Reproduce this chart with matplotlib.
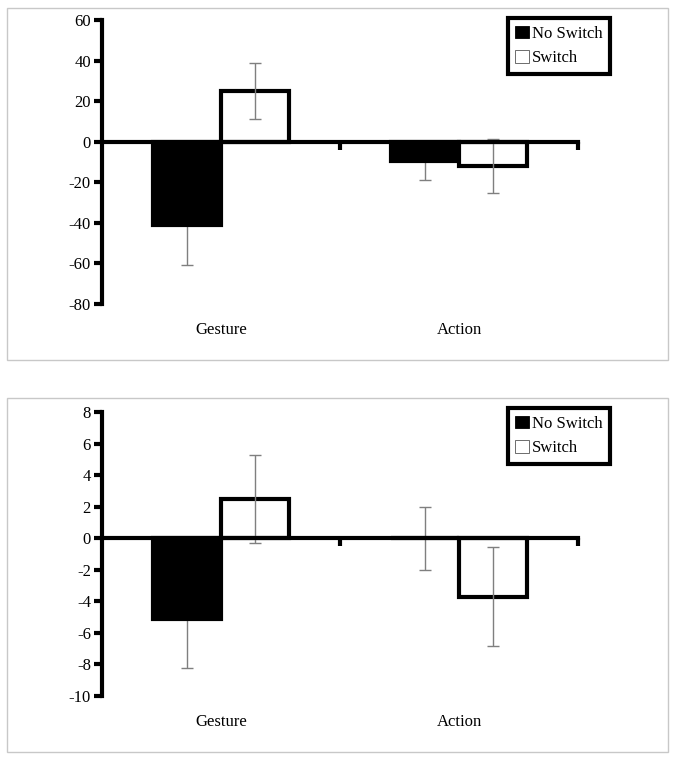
import matplotlib
matplotlib.use("Agg")
import matplotlib.pyplot as plt
import matplotlib.transforms as mtransforms
from matplotlib.patches import Rectangle, Patch
import numpy as np

plt.rcParams['font.family'] = ['Liberation Serif', 'DejaVu Serif']

categories = ["Gesture", "Action"]
series = ["No Switch", "Switch"]

# top panel
top_noswitch = [-41, -9.5]
top_noswitch_err = [20, 9.5]
top_switch = [25, -12]
top_switch_err = [14, 13.5]
top_ticks = [60, 40, 20, 0, -20, -40, -60, -80]

# bottom panel
bot_noswitch = [-5.1, 0.0]
bot_noswitch_err = [3.1, 2.0]
bot_switch = [2.5, -3.7]
bot_switch_err = [2.8, 3.15]
bot_ticks = [8, 6, 4, 2, 0, -2, -4, -6, -8, -10]

W, H = 675, 760
fig = plt.figure(figsize=(W / 100, H / 100), dpi=100)


def px_axes(x0, x1, ytop, ybot):
    return fig.add_axes([x0 / W, 1 - ybot / H, (x1 - x0) / W, (ybot - ytop) / H])


def panel(ax, ns, ns_err, sw, sw_err, ticks, label_y, legend_top):
    x = np.arange(len(categories))
    bw = 0.286
    ax.bar(x - bw / 2, ns, bw, color="black", edgecolor="black", linewidth=3, zorder=2)
    ax.bar(x + bw / 2, sw, bw, color="white", edgecolor="black", linewidth=3, zorder=2)
    # no-switch error bars sit behind the black bars
    ax.errorbar(x - bw / 2, ns, yerr=ns_err, fmt="none", ecolor="#7f7f7f",
                elinewidth=1, capsize=4, capthick=1, zorder=1)
    ax.errorbar(x + bw / 2, sw, yerr=sw_err, fmt="none", ecolor="#7f7f7f",
                elinewidth=1, capsize=4, capthick=1, zorder=3)
    ax.set_xlim(-0.5, 1.5)
    ax.set_ylim(min(ticks), max(ticks))
    ax.set_yticks(ticks)
    ax.set_yticklabels([str(t) for t in ticks])
    for s in ["top", "right"]:
        ax.spines[s].set_visible(False)
    ax.spines["left"].set_linewidth(3)
    ax.spines["bottom"].set_position(("data", 0))
    ax.spines["bottom"].set_linewidth(3)
    ax.spines["bottom"].set_zorder(4)
    ax.set_xticks([0.5, 1.5])
    ax.set_xticklabels(["", ""])
    ax.tick_params(axis="x", direction="out", length=6, width=3)
    ax.tick_params(axis="y", direction="out", length=6, width=3,
                   labelsize=12, pad=2)
    trans = mtransforms.blended_transform_factory(ax.transData, fig.transFigure)
    for i, c in enumerate(categories):
        ax.text(x[i], 1 - label_y / H, c, transform=trans, fontsize=12,
                ha="center", va="center")
    handles = [Patch(facecolor="black", edgecolor="black", linewidth=0.6),
               Patch(facecolor="white", edgecolor="#555555", linewidth=0.6)]
    leg = ax.legend(handles, series, loc="upper right",
                    bbox_to_anchor=(610 / W, 1 - legend_top / H),
                    bbox_transform=fig.transFigure, borderaxespad=0,
                    fancybox=False, framealpha=1, fontsize=12,
                    handlelength=0.8, handleheight=0.8, handletextpad=0.2,
                    labelspacing=0.5, borderpad=0.45)
    leg.get_frame().set_edgecolor("black")
    leg.get_frame().set_linewidth(3)


ax1 = px_axes(102, 578, 20, 304)
ax2 = px_axes(102, 578, 412, 696)

panel(ax1, top_noswitch, top_noswitch_err, top_switch, top_switch_err,
      top_ticks, 330, 18)
panel(ax2, bot_noswitch, bot_noswitch_err, bot_switch, bot_switch_err,
      bot_ticks, 722, 408)

# light grey frame around each chart
fig.patches.append(Rectangle((7 / W, 1 - 360 / H), 661 / W, 352 / H,
                             transform=fig.transFigure, fill=False,
                             edgecolor="#c8c8c8", linewidth=1))
fig.patches.append(Rectangle((7 / W, 1 - 752 / H), 661 / W, 354 / H,
                             transform=fig.transFigure, fill=False,
                             edgecolor="#c8c8c8", linewidth=1))

fig.savefig("out.png", dpi=100)
